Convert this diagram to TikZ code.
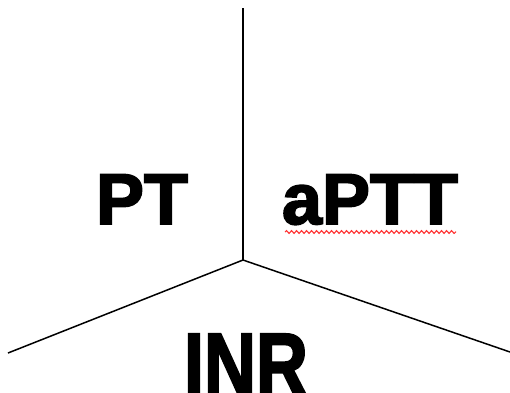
\documentclass[tikz,border=0pt]{standalone}
\usepackage{fontspec}
\setmainfont{Liberation Sans}
\newfontfamily\heavyfont[FakeBold=2.5]{Liberation Sans Bold}
\usetikzlibrary{decorations.pathmorphing}
\begin{document}
\begin{tikzpicture}[x=1pt,y=-1pt,
  lbl/.style={font=\heavyfont\fontsize{72}{72}\selectfont, anchor=base, inner sep=0pt},
  ln/.style={line width=1.5pt, black}]
\useasboundingbox (0,0) rectangle (510,392);
\coordinate (c) at (243,260);
\coordinate (top) at (243,8);
\coordinate (l) at (8,353);
\coordinate (r) at (510,352);
\draw[ln] (top) -- (c);
\draw[ln] (l) -- (c) -- (r);
\node[lbl] (pt) at (142,224) {PT};
\node[lbl] (aptt) at (370,224) {aPTT};
\node[lbl, yscale=1.25] (inr) at (246,396) {INR};
\coordinate (w1) at (285,232);
\coordinate (w2) at (456,232);
\draw[red!80!white, line width=1.1pt, decorate, decoration={snake, amplitude=1.4pt, segment length=5pt}] (w1) -- (w2);
\end{tikzpicture}
\end{document}
